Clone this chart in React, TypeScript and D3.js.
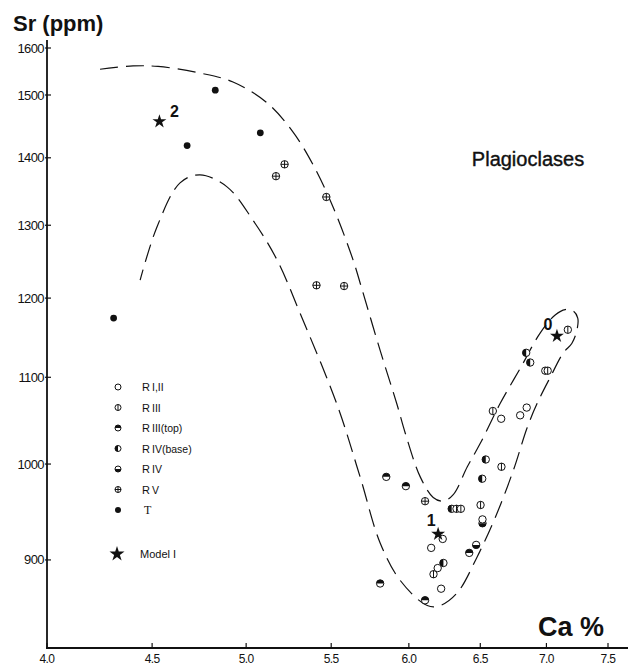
import React, { useEffect, useRef } from "react";
import * as d3 from "d3";

// values: [Ca %, Sr ppm]
const seriesT = [[4.31, 1174], [4.68, 1419], [4.83, 1510], [5.08, 1439]];
const seriesRV = [[5.17, 1372], [5.22, 1390], [5.47, 1341], [5.41, 1217], [5.58, 1216], [6.11, 960]];
const seriesRIIITop = [[5.85, 986], [5.98, 976], [5.81, 877], [6.11, 861], [6.42, 907]];
const seriesRIVBase = [[6.295, 952], [6.237, 897], [6.54, 1005], [6.514, 984], [6.843, 1130], [6.874, 1118]];
const seriesRIV = [[6.47, 915], [6.516, 937]];
const seriesRIII = [[6.329, 952], [6.36, 952], [6.168, 886], [6.656, 997], [6.502, 956], [6.592, 1060], [7.17, 1159], [6.991, 1108], [7.01, 1108]];
const seriesRI_II = [[6.232, 921], [6.152, 912], [6.197, 892], [6.221, 872], [6.516, 941], [6.654, 1051], [6.797, 1055], [6.847, 1064]];
const modelPoints = [[4.537, 1457], [6.2, 926], [7.083, 1151]];
const modelLabels = ["2", "1", "0"];

// dashed envelope drawn around the data
const envelope = [
  [4.245, 1554], [4.405, 1561], [4.53, 1560], [4.748, 1546], [4.927, 1527], [5.119, 1487],
  [5.27, 1440], [5.39, 1389], [5.512, 1326], [5.637, 1251], [5.694, 1211], [5.81, 1133],
  [5.922, 1067], [5.975, 1035], [6.077, 986], [6.166, 964], [6.236, 960], [6.306, 967],
  [6.406, 997], [6.5, 1023], [6.647, 1069], [6.798, 1111], [6.952, 1155], [7.069, 1178],
  [7.149, 1185], [7.214, 1183], [7.25, 1174], [7.244, 1159], [7.203, 1142], [7.134, 1130],
  [7.03, 1100], [6.928, 1069], [6.851, 1041], [6.745, 993], [6.61, 943], [6.477, 903],
  [6.334, 868], [6.214, 856], [6.125, 856], [5.942, 880], [5.81, 917], [5.681, 986],
  [5.537, 1067], [5.312, 1180], [5.177, 1251], [5.039, 1307], [4.894, 1356], [4.748, 1374],
  [4.643, 1362], [4.525, 1298], [4.44, 1224],
];

const xTicks = [4.0, 4.5, 5.0, 5.5, 6.0, 6.5, 7.0, 7.5];
const yTicks = [900, 1000, 1100, 1200, 1300, 1400, 1500, 1600];
const legendKinds = ["open", "r3", "r3top", "r4base", "r4", "r5", "t"];
const legendNames = ["I,II", "III", "III(top)", "IV(base)", "IV", "V", ""];

export default function App() {
  const ref = useRef(null);

  useEffect(() => {
    const svg = d3.select(ref.current);
    svg.selectAll("*").remove();

    const x = d3.scaleLog().domain([4, 7.5]).range([47, 608]);
    // the printed axis is log, the top interval is drawn a bit short
    const y = d3.scaleLog().domain([817, 1500, 1600]).range([648, 95, 48]);

    const ink = "#111";
    const sans = "'Liberation Sans', Arial, sans-serif";

    // axes
    svg.append("line").attr("x1", 47).attr("x2", 47).attr("y1", 40).attr("y2", 649)
      .attr("stroke", ink).attr("stroke-width", 1.8);
    svg.append("line").attr("x1", 46).attr("x2", 628).attr("y1", 648).attr("y2", 648)
      .attr("stroke", ink).attr("stroke-width", 2.2);

    svg.selectAll(".yt").data(yTicks).enter().append("line")
      .attr("x1", 45).attr("x2", 51)
      .attr("y1", d => y(d)).attr("y2", d => y(d))
      .attr("stroke", ink).attr("stroke-width", 1.2);
    svg.selectAll(".yl").data(yTicks).enter().append("text")
      .attr("x", 44).attr("y", d => y(d) + 4.5)
      .attr("text-anchor", "end")
      .attr("font-family", sans).attr("font-size", 13).attr("letter-spacing", -0.6)
      .attr("fill", ink)
      .text(d => d);

    svg.selectAll(".xt").data(xTicks).enter().append("line")
      .attr("x1", d => x(d)).attr("x2", d => x(d))
      .attr("y1", 643).attr("y2", 648)
      .attr("stroke", ink).attr("stroke-width", 1.2);
    svg.selectAll(".xl").data(xTicks).enter().append("text")
      .attr("x", d => x(d)).attr("y", 663)
      .attr("text-anchor", "middle")
      .attr("font-family", sans).attr("font-size", 12).attr("letter-spacing", -0.6)
      .attr("fill", ink)
      .text(d => d3.format(".1f")(d));

    // titles
    svg.append("text").attr("x", 13).attr("y", 31)
      .attr("font-family", sans).attr("font-weight", "bold").attr("font-size", 22)
      .attr("fill", ink).text("Sr (ppm)");
    svg.append("text").attr("x", 604).attr("y", 636).attr("text-anchor", "end")
      .attr("font-family", sans).attr("font-weight", "bold").attr("font-size", 27)
      .attr("fill", ink).text("Ca %");
    svg.append("text").attr("x", 528).attr("y", 166).attr("text-anchor", "middle")
      .attr("font-family", sans).attr("font-size", 20).attr("stroke", ink).attr("stroke-width", 0.4)
      .attr("fill", ink).text("Plagioclases");

    // envelope
    const line = d3.line().x(d => x(d[0])).y(d => y(d[1])).curve(d3.curveCatmullRom);
    svg.append("path").attr("d", line(envelope))
      .attr("fill", "none").attr("stroke", ink).attr("stroke-width", 1.2)
      .attr("stroke-dasharray", "18,8");

    // marker drawing
    const drawMarker = (g, kind, r) => {
      const arc = d3.arc().innerRadius(0).outerRadius(r);
      if (kind === "t") {
        g.append("circle").attr("r", r).attr("fill", ink);
        return;
      }
      g.append("circle").attr("r", r).attr("fill", "white").attr("stroke", ink).attr("stroke-width", 1);
      if (kind === "r3top") g.append("path").attr("d", arc({ startAngle: -Math.PI / 2, endAngle: Math.PI / 2 })).attr("fill", ink);
      if (kind === "r4") g.append("path").attr("d", arc({ startAngle: Math.PI / 2, endAngle: 1.5 * Math.PI })).attr("fill", ink);
      if (kind === "r4base") g.append("path").attr("d", arc({ startAngle: Math.PI, endAngle: 2 * Math.PI })).attr("fill", ink);
      if (kind === "r3" || kind === "r5")
        g.append("line").attr("x1", 0).attr("x2", 0).attr("y1", -r).attr("y2", r).attr("stroke", ink).attr("stroke-width", 1);
      if (kind === "r5")
        g.append("line").attr("x1", -r).attr("x2", r).attr("y1", 0).attr("y2", 0).attr("stroke", ink).attr("stroke-width", 1);
    };

    const groups = [
      ["t", seriesT], ["r5", seriesRV], ["r3top", seriesRIIITop], ["r4base", seriesRIVBase],
      ["r4", seriesRIV], ["r3", seriesRIII], ["open", seriesRI_II],
    ];
    groups.forEach(([kind, data]) => {
      data.forEach(d => {
        const g = svg.append("g").attr("transform", `translate(${x(d[0])},${y(d[1])})`);
        drawMarker(g, kind, kind === "t" ? 3.4 : 3.7);
      });
    });

    const star = d3.symbol().type(d3.symbolStar).size(60);
    const labelOffsets = [[15, -10], [-7, -14], [-9, -12]];
    modelPoints.forEach((d, i) => {
      svg.append("path").attr("d", star())
        .attr("transform", `translate(${x(d[0])},${y(d[1])})`).attr("fill", ink);
      svg.append("text")
        .attr("x", x(d[0]) + labelOffsets[i][0]).attr("y", y(d[1]) + labelOffsets[i][1] + 6)
        .attr("text-anchor", "middle")
        .attr("font-family", sans).attr("font-weight", "bold").attr("font-size", 16)
        .attr("fill", ink).text(modelLabels[i]);
    });

    // legend
    const leg = svg.append("g");
    legendKinds.forEach((kind, i) => {
      const ly = 387 + i * 20.5;
      const g = leg.append("g").attr("transform", `translate(118,${ly})`);
      drawMarker(g, kind, 3);
      if (kind === "t") {
        leg.append("text").attr("x", 144).attr("y", ly + 4)
          .attr("font-family", "'Liberation Serif', serif").attr("font-size", 12).attr("fill", ink).text("T");
      } else {
        leg.append("text").attr("x", 142).attr("y", ly + 4)
          .attr("font-family", sans).attr("font-size", 11).attr("fill", ink).text("R");
        leg.append("text").attr("x", 152).attr("y", ly + 4)
          .attr("font-family", sans).attr("font-size", 10.5).attr("fill", ink).text(legendNames[i]);
      }
    });
    leg.append("path").attr("d", d3.symbol().type(d3.symbolStar).size(70)())
      .attr("transform", "translate(117,554)").attr("fill", ink);
    leg.append("text").attr("x", 140).attr("y", 558)
      .attr("font-family", sans).attr("font-size", 11).attr("fill", ink).text("Model I");
  }, []);

  return (
    <svg
      ref={ref}
      width={630}
      height={670}
      style={{ position: "absolute", left: 0, top: 0, background: "white" }}
    />
  );
}
